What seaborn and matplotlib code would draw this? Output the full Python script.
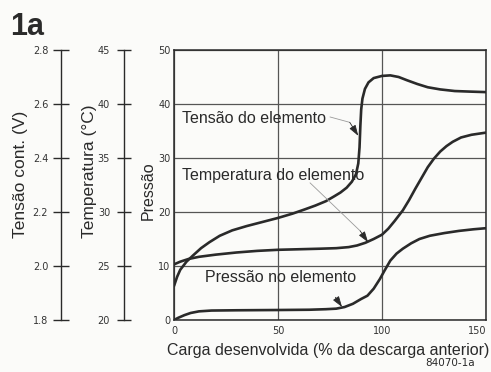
import numpy as np
import pandas as pd
import matplotlib
matplotlib.use("Agg")
import matplotlib.pyplot as plt
import seaborn as sns

# Charge delivered (% of previous discharge) and the three measured curves,
# all expressed on the pressure scale (0-50) of the main axes.
tensao_x = [0, 1.5, 3, 6, 9, 13, 17, 22, 28, 35, 42, 50, 57, 63, 68, 73, 77, 80,
            83, 85.5, 87.5, 88.6, 89.2, 89.6, 90.0, 90.6, 91.8, 93.5, 96, 100,
            104, 108, 112, 117, 122, 128, 135, 142, 150]
tensao_y = [6.3, 8.0, 9.3, 10.8, 11.9, 13.3, 14.4, 15.6, 16.6, 17.4, 18.1, 18.9,
            19.7, 20.5, 21.2, 22.0, 22.9, 23.6, 24.5, 25.6, 27.0, 29.0, 32.0,
            36.0, 39.0, 41.0, 42.8, 44.0, 44.8, 45.2, 45.3, 45.0, 44.4, 43.7,
            43.1, 42.7, 42.4, 42.3, 42.2]

temp_x = [0, 3, 7, 12, 20, 30, 40, 50, 60, 70, 78, 84, 88, 92, 96, 100, 103,
          106, 110, 113, 116, 119, 122, 125, 128, 131, 134, 138, 143, 150]
temp_y = [10.3, 10.8, 11.3, 11.7, 12.1, 12.5, 12.8, 13.0, 13.1, 13.2, 13.3,
          13.5, 13.8, 14.3, 15.0, 15.8, 16.9, 18.3, 20.3, 22.2, 24.3, 26.3,
          28.3, 29.9, 31.2, 32.2, 33.0, 33.8, 34.3, 34.7]

press_x = [0, 2, 5, 8, 12, 18, 30, 50, 65, 73, 78, 82, 86, 90, 93, 96, 99, 101,
           104, 107, 110, 114, 118, 123, 130, 137, 144, 150]
press_y = [0.0, 0.4, 0.9, 1.3, 1.6, 1.75, 1.8, 1.85, 1.9, 2.0, 2.1, 2.4, 3.0,
           3.9, 4.5, 5.8, 7.6, 9.0, 11.0, 12.3, 13.2, 14.2, 15.0, 15.6, 16.1,
           16.5, 16.8, 17.0]

x_ticks = [0, 50, 100, 150]
press_ticks = [0, 10, 20, 30, 40, 50]
temp_ticks = [20, 25, 30, 35, 40, 45]
volt_ticks = [1.8, 2.0, 2.2, 2.4, 2.6, 2.8]

sns.set_theme(style="white")
plt.rcParams["font.family"] = ["Liberation Sans", "DejaVu Sans"]

ink = "#2a2a2a"
bg = "#fbfbf9"

fig = plt.figure(figsize=(4.91, 3.72), dpi=100, facecolor=bg)
ax = fig.add_axes([174 / 491, 52 / 372, 312 / 491, 270 / 372])
ax.set_facecolor(bg)

for xs, ys in [(tensao_x, tensao_y), (temp_x, temp_y), (press_x, press_y)]:
    df = pd.DataFrame({"x": xs, "y": ys})
    sns.lineplot(data=df, x="x", y="y", ax=ax, color=ink, lw=1.9,
                 estimator=None, sort=False)

ax.set_xlim(0, 150)
ax.set_ylim(0, 50)
ax.set_xticks(x_ticks)
ax.set_yticks(press_ticks)
ax.grid(True, color="#555555", lw=0.9)
for s in ax.spines.values():
    s.set_visible(True)
    s.set_color(ink)
    s.set_linewidth(1.1)
ax.tick_params(axis="both", length=0, labelsize=7, labelcolor="#333333")
ax.tick_params(axis="y", pad=2.5)
ax.tick_params(axis="x", pad=4.5)
for lab in ax.get_xticklabels() + ax.get_yticklabels():
    lab.set_family("DejaVu Sans")
# keep the last x tick label inside the figure edge
ax.get_xticklabels()[-1].set_horizontalalignment("right")

ax.set_xlabel("Carga desenvolvida (% da descarga anterior)", fontsize=11.5,
              color=ink)
ax.xaxis.set_label_coords(0.494, -0.085)
ax.set_ylabel("Pressão", fontsize=11.5, color=ink, va="center")
ax.yaxis.set_label_coords(-0.083, 0.478)


def side_axis(offset_px, lo, hi, ticks, fmt, length, pad, label, lx, ly):
    a = ax.twinx()
    a.set_ylim(lo, hi)
    for k in ("right", "top", "bottom"):
        a.spines[k].set_visible(False)
    a.spines["left"].set_visible(True)
    a.spines["left"].set_position(("outward", offset_px * 0.72))
    a.spines["left"].set_color(ink)
    a.spines["left"].set_linewidth(1.0)
    a.yaxis.set_ticks_position("left")
    a.yaxis.set_label_position("left")
    a.set_yticks(ticks)
    a.set_yticklabels([fmt.format(t) for t in ticks])
    a.tick_params(axis="y", direction="inout", length=length, width=1.0,
                  color=ink, pad=pad, labelsize=7, labelcolor="#333333")
    for lab in a.get_yticklabels():
        lab.set_family("DejaVu Sans")
    a.set_ylabel(label, fontsize=12.5, color=ink, va="center")
    a.yaxis.set_label_coords(lx, ly)
    a.grid(False)
    return a


side_axis(50, 20, 45, temp_ticks, "{:d}", 10, 5, "Temperatura (°C)",
          -0.272, 0.552)
side_axis(113, 1.8, 2.8, volt_ticks, "{:.1f}", 11.5, 3.5, "Tensão cont. (V)",
          -0.492, 0.541)

# Curve labels with thin leaders and small filled arrowheads
label_kw = dict(fontsize=11.5, color=ink, va="center", ha="left")
ax.text(3.8, 37.4, "Tensão do elemento", **label_kw)
ax.text(3.8, 26.7, "Temperatura do elemento", **label_kw)
ax.text(15, 7.8, "Pressão no elemento", **label_kw)

leader = dict(arrowstyle="-", color="#9a9a9a", lw=0.6, shrinkA=0, shrinkB=0)
head = dict(arrowstyle="-|>,head_length=0.55,head_width=0.18", color=ink,
            lw=0.6, shrinkA=0, shrinkB=0)
ax.annotate("", xy=(84.5, 36.6), xytext=(75, 37.6), arrowprops=leader)
ax.annotate("", xy=(88.6, 34.1), xytext=(84.5, 36.6), arrowprops=head)
ax.annotate("", xy=(89.5, 16.5), xytext=(65.4, 25.4), arrowprops=leader)
ax.annotate("", xy=(93.3, 14.4), xytext=(89.5, 16.5), arrowprops=head)
ax.annotate("", xy=(80.8, 2.4), xytext=(77.6, 4.2), arrowprops=head)

fig.text(10 / 491, 1 - 35 / 372, "1a", fontsize=22, fontweight="bold",
         color=ink, va="baseline", ha="left")
fig.text(450 / 491, 1 - 363 / 372, "84070-1a", fontsize=7.5, color=ink,
         va="center", ha="center", family="DejaVu Sans")

fig.savefig("out.png", dpi=100, facecolor=bg)
